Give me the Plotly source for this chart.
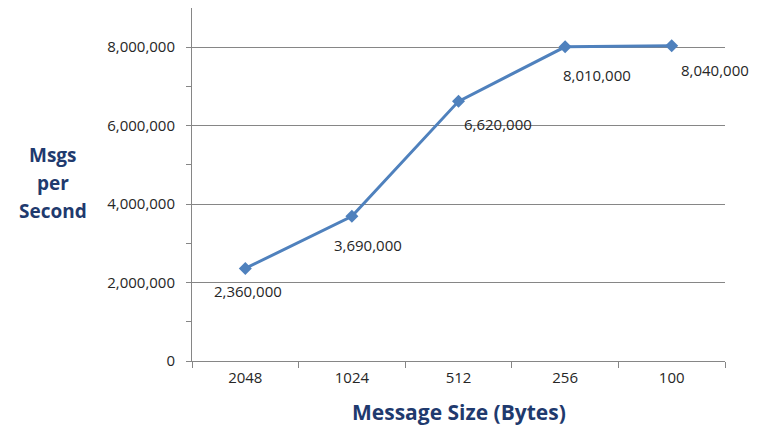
import plotly.graph_objects as go

sizes = ["2048", "1024", "512", "256", "100"]
msgs_per_sec = [2360000, 3690000, 6620000, 8010000, 8040000]
label_dx = [3, 16, 39, 32, 43]
label_dy = [23, 29, 23, 28, 24]

font_fam = "Open Sans, Liberation Sans, sans-serif"
title_color = "#1F3A6E"
line_color = "#4F81BD"

fig = go.Figure()
fig.add_trace(go.Scatter(
    x=sizes, y=msgs_per_sec, mode="lines+markers",
    line=dict(color=line_color, width=3),
    marker=dict(symbol="diamond", size=10, color=line_color),
    hoverinfo="skip", showlegend=False,
))

for i, (v, dx, dy) in enumerate(zip(msgs_per_sec, label_dx, label_dy)):
    fig.add_annotation(x=i, y=v, text=f"{v:,}", showarrow=False,
                       xshift=dx, yshift=-dy,
                       font=dict(family=font_fam, size=15, color="#262626"))

for word, yp in zip(["Msgs", "per", "Second"], [0.5836, 0.5042, 0.4249]):
    fig.add_annotation(xref="paper", yref="paper", x=-0.26, y=yp,
                       xanchor="center", yanchor="middle",
                       text=f"<b>{word}</b>", showarrow=False,
                       font=dict(family=font_fam, size=19, color=title_color))

fig.add_annotation(xref="paper", yref="paper", x=0.5, y=-0.145,
                   xanchor="center", yanchor="middle",
                   text="<b>Message Size (Bytes)</b>", showarrow=False,
                   font=dict(family=font_fam, size=21, color=title_color))

fig.update_layout(
    width=767, height=431,
    margin=dict(l=184, r=50, t=0, b=78),
    plot_bgcolor="white", paper_bgcolor="white",
    font=dict(family=font_fam, size=15, color="#262626"),
    xaxis=dict(
        type="category", range=[-0.5, 4.5],
        showline=True, linecolor="#868686", linewidth=1,
        ticks="outside", ticklen=6, tickcolor="#868686",
        tickson="boundaries", showgrid=False,
        tickangle=0, ticklabelstandoff=3,
    ),
    yaxis=dict(
        range=[0, 9000000],
        tickvals=[0, 2000000, 4000000, 6000000, 8000000],
        ticktext=["0", "2,000,000", "4,000,000", "6,000,000", "8,000,000"],
        showgrid=True, gridcolor="#868686", gridwidth=1,
        showline=True, linecolor="#868686", linewidth=1,
        ticks="outside", ticklen=5, tickcolor="#868686",
        ticklabelstandoff=8,
        minor=dict(tickvals=[1000000, 3000000, 5000000, 7000000],
                   ticks="outside", ticklen=5, tickcolor="#868686", showgrid=False),
        zeroline=False,
    ),
)

fig.write_html("out.html")
